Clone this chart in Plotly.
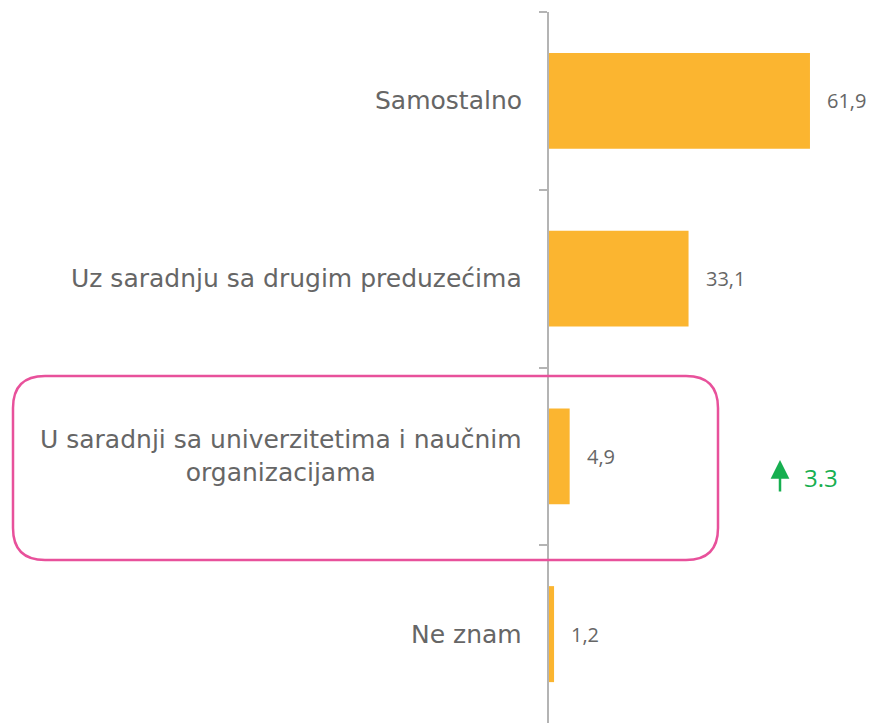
import plotly.graph_objects as go

categories = [
    "Samostalno",
    "Uz saradnju sa drugim preduzećima",
    "U saradnji sa univerzitetima i naučnim<br>organizacijama",
    "Ne znam",
]
values = [61.9, 33.1, 4.9, 1.2]
change_label = "3.3"

BAR = "#FBB530"
GRAY = "#666666"
PINK = "#E8519B"
GREEN = "#17AF50"
LFONT = "DejaVu Sans"
VFONT = "Open Sans"

# browser body margin (8px) shifts the figure; compensate
OFF = 8
W, H = 879 - OFF, 723 - OFF
L, R, T, B = 549 - OFF, 0, 12 - OFF, 0
pw, ph = W - L - R, H - T - B


def px(x):  # screen x -> paper
    return (x - 549) / pw


def py(y):  # screen y -> paper
    return 1 - (y - 12) / ph


fig = go.Figure()
fig.add_trace(go.Bar(
    y=categories, x=values, orientation="h",
    marker=dict(color=BAR, line=dict(width=0)),
    hoverinfo="skip",
))

ann = []
for c, v in zip(categories, values):
    ann.append(dict(x=0, y=c, xref="x", yref="y", text=c, showarrow=False,
                    xanchor="right", align="center", xshift=-25,
                    font=dict(family=LFONT, size=25, color=GRAY)))
    ann.append(dict(x=v, y=c, xref="x", yref="y",
                    text=f"{v:.1f}".replace(".", ","), showarrow=False,
                    xanchor="left", xshift=15,
                    font=dict(family=VFONT, size=20, color=GRAY)))

# green arrow
ann.append(dict(x=px(780), y=py(460), xref="paper", yref="paper", text="",
                showarrow=True, ax=0, ay=33, axref="pixel", ayref="pixel",
                arrowhead=2, arrowsize=1.5, arrowwidth=2.5, arrowcolor=GREEN))
ann.append(dict(x=px(802), y=py(478), xref="paper", yref="paper",
                text=change_label, showarrow=False, xanchor="left",
                font=dict(family=VFONT, size=24, color=GREEN)))

# rounded rectangle
x0, x1, y0, y1 = px(13), px(718), py(560), py(376)
rx, ry = 32 / pw, 32 / ph
path = (f"M {x0+rx},{y1} L {x1-rx},{y1} Q {x1},{y1} {x1},{y1-ry} "
        f"L {x1},{y0+ry} Q {x1},{y0} {x1-rx},{y0} "
        f"L {x0+rx},{y0} Q {x0},{y0} {x0},{y0+ry} "
        f"L {x0},{y1-ry} Q {x0},{y1} {x0+rx},{y1} Z")

fig.update_layout(
    width=W, height=H,
    margin=dict(l=L, r=R, t=T, b=B),
    paper_bgcolor="white", plot_bgcolor="white",
    showlegend=False,
    bargap=0.46,
    annotations=ann,
    shapes=[dict(type="path", path=path, xref="paper", yref="paper",
                 line=dict(color=PINK, width=2.5), fillcolor="rgba(0,0,0,0)",
                 layer="above")],
    xaxis=dict(range=[0, pw / 4.216], visible=False, fixedrange=True),
    yaxis=dict(categoryorder="array", categoryarray=categories,
               autorange="reversed", showticklabels=False,
               showline=True, linecolor="#B4B4B4", linewidth=2,
               ticks="outside", tickson="boundaries", ticklen=8,
               tickcolor="#B4B4B4", tickwidth=2, showgrid=False,
               zeroline=False),
)

fig.write_html("out.html")
